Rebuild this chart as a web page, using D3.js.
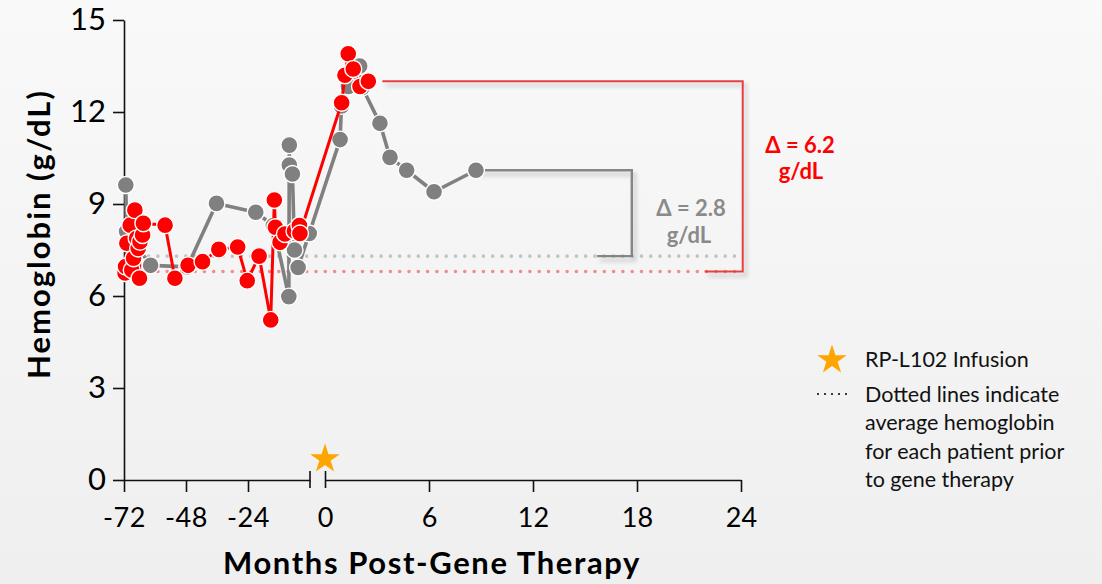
<!DOCTYPE html>
<html>
<head>
<meta charset="utf-8">
<script src="https://cdn.jsdelivr.net/npm/d3@7"></script>
<style>
    html, body { margin: 0; padding: 0; background: #f3f3f3; }
    svg { display: block; font-family: Lato, "Open Sans", sans-serif; }
</style>
</head>
<body>
<div id="container"></div>
<script>
"use strict";

// months relative to infusion (negative = before gene therapy), hemoglobin in g/dL
var grayMonths = [-71.3, -71.0, -61.7, -47.5, -36.2, -21.0, -14.2, -8.2, -8.0, -8.0, -6.8, -6.0, -4.6, -0.3,
                  0.87, 0.95, 1.35, 2.0, 2.15, 3.17, 3.75, 4.71, 6.29, 8.71];
var grayHb = [9.62, 8.1, 7.0, 6.95, 9.02, 8.73, 8.3, 5.98, 10.92, 10.27, 9.98, 7.5, 6.93, 8.04,
              11.1, 12.2, 12.83, 13.5, 12.8, 11.63, 10.52, 10.1, 9.4, 10.1];

var redMonths = [-71.6, -71.4, -70.9, -69.6, -69.0, -68.3, -67.8, -67.1, -66.5, -66.0, -65.8, -64.8, -64.5,
                 -56.1, -52.3, -47.2, -41.6, -35.3, -28.0, -24.3, -19.7, -15.2, -13.8, -13.4, -11.6, -9.7,
                 -6.0, -4.1, -3.9, 0.96, 1.15, 1.34, 1.63, 2.02, 2.5];
var redHb = [6.75, 6.96, 7.72, 8.31, 6.85, 7.23, 8.8, 7.88, 7.55, 6.58, 7.77, 7.99, 8.37,
             8.31, 6.58, 7.0, 7.12, 7.52, 7.6, 6.5, 7.3, 5.22, 9.13, 8.24, 7.75, 8.02,
             8.12, 8.3, 8.04, 12.3, 13.2, 13.9, 13.4, 12.83, 13.0];

// average pre-therapy hemoglobin per patient
var baselines = [7.3, 6.8];

var yTicks = [0, 3, 6, 9, 12, 15];
var preTicks = [-72, -48, -24];
var postTicks = [0, 6, 12, 18, 24];

var infusionMonth = 0;
var legendNote = ["Dotted lines indicate", "average hemoglobin", "for each patient prior", "to gene therapy"];

var width = 1102,
    height = 584;

var grayColor = "#808080",
    redColor = "#ff0000";

var y = d3.scaleLinear().domain([0, 15]).range([480, 20]);
var xPre = d3.scaleLinear().domain([-72, 0]).range([124, 310]);
var xPost = d3.scaleLinear().domain([0, 24]).range([325, 741]);

function x(m) {
    return m < 0 ? xPre(m) : xPost(m);
}

// plain hyphen like the original slide, not the unicode minus
function plain(d) {
    return String(d);
}

var svg = d3.select("#container").append("svg")
    .attr("width", width)
    .attr("height", height);

var defs = svg.append("defs");
var grad = defs.append("linearGradient")
    .attr("id", "bg")
    .attr("x1", 0).attr("y1", 0).attr("x2", 0).attr("y2", 1);
grad.append("stop").attr("offset", "0%").attr("stop-color", "#f9f9f9");
grad.append("stop").attr("offset", "100%").attr("stop-color", "#efefef");

var shadow = defs.append("filter").attr("id", "shadow")
    .attr("x", "-10%").attr("y", "-10%").attr("width", "130%").attr("height", "130%");
shadow.append("feDropShadow")
    .attr("dx", 3).attr("dy", 4).attr("stdDeviation", 2)
    .attr("flood-color", "#000").attr("flood-opacity", 0.22);

svg.append("rect")
    .attr("width", width)
    .attr("height", height)
    .attr("fill", "url(#bg)");

// dotted baselines
var baseEnd = 735;
svg.selectAll(".baseline")
    .data(baselines)
    .enter().append("line")
        .attr("class", "baseline")
        .attr("x1", x(-72) + 6)
        .attr("x2", baseEnd)
        .attr("y1", function(d) { return y(d); })
        .attr("y2", function(d) { return y(d); })
        .attr("stroke", function(d, i) { return i === 0 ? "#c2c2c2" : "#f38a8c"; })
        .attr("stroke-width", 3.6)
        .attr("stroke-linecap", "round")
        .attr("stroke-dasharray", "0,9.3");

// brackets
var grayLast = grayHb[grayHb.length - 1],
    redLast = redHb[redHb.length - 1];

svg.append("path")
    .attr("d", "M" + (x(redMonths[redMonths.length - 1]) + 14) + "," + y(redLast) +
        "H" + xPost(24.1) + "V" + y(baselines[1]) + "H" + xPost(21.9))
    .attr("fill", "none")
    .attr("stroke", "#e8413f")
    .attr("stroke-width", 2)
    .attr("filter", "url(#shadow)");

svg.append("path")
    .attr("d", "M" + x(grayMonths[grayMonths.length - 1]) + "," + y(grayLast) +
        "H" + xPost(17.7) + "V" + y(baselines[0]) + "H" + xPost(15.7))
    .attr("fill", "none")
    .attr("stroke", "#858585")
    .attr("stroke-width", 2.4)
    .attr("filter", "url(#shadow)");

var deltaRed = (redLast - baselines[1]).toFixed(1),
    deltaGray = (grayLast - baselines[0]).toFixed(1);

var notes = svg.append("g")
    .attr("font-weight", "bold")
    .attr("font-size", 22)
    .attr("text-anchor", "middle");
notes.append("text").attr("x", 800).attr("y", 153).attr("fill", redColor).text("\u0394 = " + deltaRed);
notes.append("text").attr("x", 801).attr("y", 179).attr("fill", redColor).text("g/dL");
notes.append("text").attr("x", 691).attr("y", 216).attr("fill", "#8a8a8a").text("\u0394 = " + deltaGray);
notes.append("text").attr("x", 689).attr("y", 243).attr("fill", "#8a8a8a").text("g/dL");

// axes
var yAxis = svg.append("g")
    .attr("transform", "translate(124,0)")
    .call(d3.axisLeft(y).tickValues(yTicks).tickFormat(plain)
        .tickSize(11).tickSizeOuter(0).tickPadding(7));

var preAxis = svg.append("g")
    .attr("transform", "translate(0,480)")
    .call(d3.axisBottom(xPre).tickValues(preTicks).tickFormat(plain)
        .tickSize(12).tickSizeOuter(0).tickPadding(16));

var postAxis = svg.append("g")
    .attr("transform", "translate(0,480)")
    .call(d3.axisBottom(xPost).tickValues(postTicks).tickFormat(plain)
        .tickSize(12).tickSizeOuter(0).tickPadding(16));

// break marks
postAxis.selectAll(".tick")
    .filter(function(d) { return d === 0; })
    .select("line")
    .attr("y1", -9)
    .attr("y2", 8);

preAxis.append("line")
    .attr("x1", xPre(0)).attr("x2", xPre(0))
    .attr("y1", -9).attr("y2", 8)
    .attr("stroke", "#000");

[yAxis, preAxis, postAxis].forEach(function(g) {
    g.selectAll("path, line").attr("stroke", "#111").attr("stroke-width", 1.6);
    g.selectAll("text").attr("fill", "#000").attr("font-family", "Lato, sans-serif");
});
yAxis.selectAll("text").attr("font-size", 31);
preAxis.selectAll("text").attr("font-size", 27).attr("letter-spacing", 0.5);
postAxis.selectAll("text").attr("font-size", 27);

// axis titles
svg.append("text")
    .attr("transform", "translate(50,234) rotate(-90)")
    .attr("text-anchor", "middle")
    .attr("font-weight", "bold")
    .attr("font-size", 31)
    .attr("letter-spacing", 2)
    .attr("fill", "#000")
    .text("Hemoglobin (g/dL)");

svg.append("text")
    .attr("x", 432)
    .attr("y", 574)
    .attr("text-anchor", "middle")
    .attr("font-weight", "bold")
    .attr("font-size", 31)
    .attr("letter-spacing", 1.6)
    .attr("fill", "#000")
    .text("Months Post-Gene Therapy");

// series
var line = d3.line()
    .x(function(d) { return x(d.m); })
    .y(function(d) { return y(d.hb); });

function drawSeries(months, values, color, lineWidth) {
    var data = months.map(function(m, i) {
        return { m: m, hb: values[i] };
    });
    var g = svg.append("g");
    g.append("path")
        .datum(data)
        .attr("d", line)
        .attr("fill", "none")
        .attr("stroke", color)
        .attr("stroke-width", lineWidth)
        .attr("stroke-linejoin", "round");
    g.selectAll("circle")
        .data(data)
        .enter().append("circle")
            .attr("cx", function(d) { return x(d.m); })
            .attr("cy", function(d) { return y(d.hb); })
            .attr("r", 8.5)
            .attr("fill", color)
            .attr("stroke", "#fff")
            .attr("stroke-width", 1.4);
}

drawSeries(grayMonths, grayHb, grayColor, 3.6);
drawSeries(redMonths, redHb, redColor, 3);

// infusion star
var star = d3.symbol().type(d3.symbolStar).size(270);
svg.append("path")
    .attr("d", star)
    .attr("transform", "translate(" + xPost(infusionMonth) + "," + (y(0) - 21) + ")")
    .attr("fill", "#ffa500");

// legend
var legend = svg.append("g")
    .attr("font-size", 21.5)
    .attr("fill", "#111");

legend.append("path")
    .attr("d", star)
    .attr("transform", "translate(832,360)")
    .attr("fill", "#ffa500");
legend.append("text")
    .attr("x", 865)
    .attr("y", 367)
    .text("RP-L102 Infusion");

legend.append("line")
    .attr("x1", 818).attr("x2", 847)
    .attr("y1", 394).attr("y2", 394)
    .attr("stroke", "#111")
    .attr("stroke-width", 2.2)
    .attr("stroke-linecap", "round")
    .attr("stroke-dasharray", "0,7");

legend.selectAll(".note")
    .data(legendNote)
    .enter().append("text")
        .attr("class", "note")
        .attr("x", 865)
        .attr("y", function(d, i) { return 402 + i * 28.3; })
        .text(function(d) { return d; });
</script>
</body>
</html>
